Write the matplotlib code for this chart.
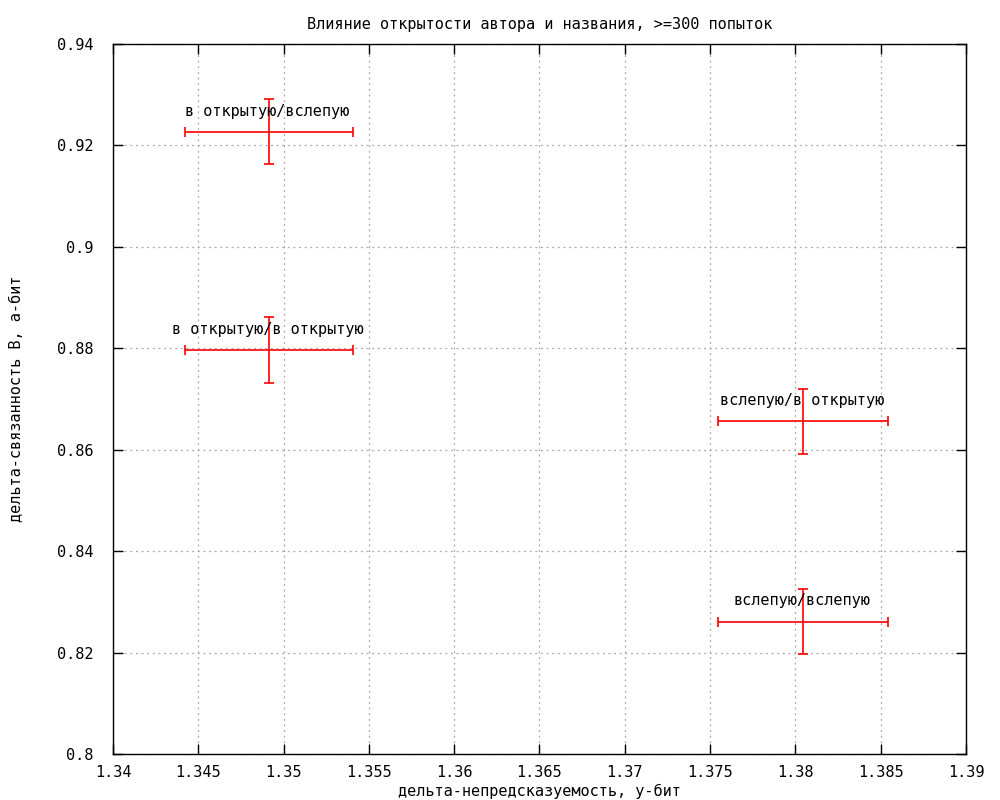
import matplotlib
matplotlib.use('Agg')
import matplotlib.pyplot as plt
import numpy as np

labels = ['в открытую/вслепую', 'в открытую/в открытую',
          'вслепую/в открытую', 'вслепую/вслепую']
x = [1.34914, 1.34914, 1.38045, 1.38045]
y = [0.92266, 0.87967, 0.86557, 0.82609]
xerr = [0.0049, 0.0049, 0.0050, 0.0050]
yerr = [0.0064, 0.0065, 0.0064, 0.0064]

xticks = np.arange(1.34, 1.3901, 0.005)
yticks = np.arange(0.80, 0.9401, 0.02)
xticklabels = ['1.34', '1.345', '1.35', '1.355', '1.36', '1.365', '1.37',
               '1.375', '1.38', '1.385', '1.39']
yticklabels = ['0.8', '0.82', '0.84', '0.86', '0.88', '0.9', '0.92', '0.94']

plt.rcParams['font.family'] = ['DejaVu Sans Mono']
plt.rcParams['font.size'] = 11

fig = plt.figure(figsize=(10, 8), dpi=100)
ax = fig.add_axes([0.113, 0.0575, 0.853, 0.8875])

ax.errorbar(x, y, xerr=xerr, yerr=yerr, fmt='none', ecolor='red',
            elinewidth=1.2, capsize=3.5, capthick=1.2, zorder=3)

for lx, ly, lab in zip(x, y, labels):
    ax.annotate(lab, (lx, ly), xytext=(-1, 15), textcoords='offset points',
                ha='center', va='center', fontsize=11)

ax.set_xlim(1.34, 1.39)
ax.set_ylim(0.80, 0.94)
ax.set_xticks(xticks)
ax.set_xticklabels(xticklabels)
ax.set_yticks(yticks)
ax.set_yticklabels(yticklabels)

ax.grid(True, color='#a8a8a8', linestyle=(0, (1.5, 3)), linewidth=0.9)
ax.tick_params(direction='in', top=True, right=True, length=7, width=1,
               labelsize=11)
ax.tick_params(axis='x', pad=8)
ax.tick_params(axis='y', pad=14)
for s in ax.spines.values():
    s.set_linewidth(1.0)

ax.set_title('Влияние открытости автора и названия, >=300 попыток',
             fontsize=11, pad=11)
ax.set_xlabel('дельта-непредсказуемость, у-бит', fontsize=11, labelpad=3)
ax.set_ylabel('дельта-связанность В, а-бит', fontsize=11, labelpad=24)

plt.savefig('out.png')
